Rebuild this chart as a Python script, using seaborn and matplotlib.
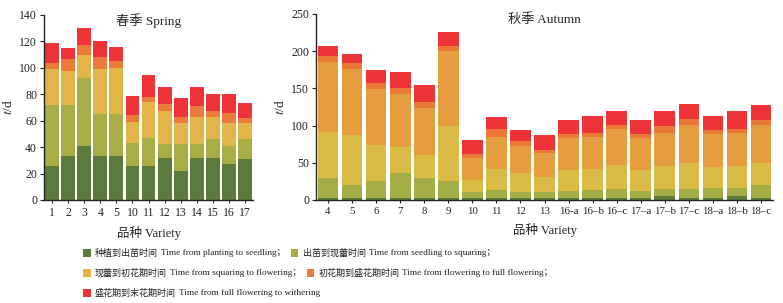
import numpy as np
import pandas as pd
import matplotlib.pyplot as plt
import seaborn as sns
from matplotlib.patches import Rectangle

# spring varieties and stage durations (days)
spring_var = ['1', '2', '3', '4', '5', '10', '11', '12', '13', '14', '15', '16', '17']
sp_plant = [26, 33, 41, 33, 33, 26, 26, 32, 22, 32, 32, 27, 31]
sp_square = [46, 39, 51.5, 32, 32, 17, 21, 10, 20, 10, 14, 14, 15]
sp_flower = [27, 25.5, 17, 34, 35, 16, 27, 25, 16, 21, 17, 17, 12]
sp_full = [4.5, 9, 7.5, 9.5, 5.5, 5, 4, 6, 5, 8, 4, 8, 4]
sp_wither = [15.5, 8.5, 13, 11.5, 10.5, 14.5, 16.5, 12.5, 14.5, 14.5, 13.5, 14.5, 11.5]

# autumn varieties (six bands are drawn in the source figure)
autumn_var = ['4', '5', '6', '7', '8', '9', '10', '11', '12', '13',
              '16-a', '16–b', '16–c', '17–a', '17–b', '17–c', '18–a', '18–b', '18–c']
au_plant = [3, 2, 2, 2, 2, 2, 2, 2, 2, 2, 3, 2, 2, 3, 6, 2, 3, 6, 2]
au_square = [27, 18, 23.5, 34, 28, 23.5, 9, 11.5, 9, 9, 9, 11.5, 12.5, 9.5, 9, 13, 12.5, 10.5, 18]
au_flower = [61, 67, 48.5, 35, 30.5, 73.5, 16.5, 28.5, 25, 19.5, 28, 28.5, 32, 27.5, 30, 35, 28.5, 28.5, 30]
au_extra = [94, 88.5, 75, 72, 62.5, 101, 29.5, 43, 37, 32.5, 43, 43, 49, 43, 45.5, 51, 44.5, 45.5, 51]
au_full = [8, 8.5, 8, 8, 9, 7.5, 5, 10, 6.5, 4, 6, 5.5, 5.5, 6, 9, 8, 5.5, 5.5, 6.5]
au_wither = [14.5, 12.5, 18, 20.5, 23, 18.5, 18.5, 16.5, 15, 20, 19, 23, 18.5, 19, 20, 20, 19, 23.5, 19.5]

labels_zh = ['种植到出苗时间', '出苗到现蕾时间', '现蕾到初花期时间',
             '初花期到盛花期时间', '盛花期到末花期时间']
labels_en = ['Time from planting to seedling；', 'Time from seedling to squaring；',
             'Time from squaring to flowering；', 'Time from flowering to full flowering；',
             'Time from full flowering to withering']
colors = ['#5b7a3b', '#a9ad45', '#e3b447', '#ec7a3a', '#ee3338']
au_colors = ['#5b7a3b', '#a4ad45', '#d9bb45', '#e69d40', '#ec7838', '#ee3338']

sns.set_style('ticks')
plt.rcParams['font.family'] = ['Liberation Serif', 'Noto Sans CJK SC']
plt.rcParams['mathtext.fontset'] = 'stix'

W, H = 783, 303
fig = plt.figure(figsize=(W / 100, H / 100), dpi=100)
ax1 = fig.add_axes([0.0562, 0.340, 0.267, 0.6106])
ax2 = fig.add_axes([0.4036, 0.340, 0.5837, 0.614])


def stacked(ax, var, stages, cols, width):
    cum = np.cumsum(np.array(stages, dtype=float), axis=0)
    df = pd.DataFrame(cum.T, columns=[f's{i}' for i in range(len(stages))])
    df['var'] = var
    for i in range(len(stages) - 1, -1, -1):
        sns.barplot(data=df, x='var', y=f's{i}', order=var, color=cols[i],
                    saturation=1, width=width, linewidth=0, errorbar=None, ax=ax)


stacked(ax1, spring_var, [sp_plant, sp_square, sp_flower, sp_full, sp_wither], colors, 0.86)
stacked(ax2, autumn_var, [au_plant, au_square, au_flower, au_extra, au_full, au_wither],
        au_colors, 0.86)

for ax, top, step, title in [(ax1, 140, 20, '春季 Spring'), (ax2, 250, 50, '秋季 Autumn')]:
    ax.set_ylim(0, top)
    ax.set_yticks(range(0, top + 1, step))
    ax.set_xlim(-0.5, len(ax.get_xticks()) - 0.5)
    ax.set_xlabel('品种 Variety', fontsize=9, labelpad=5)
    ax.set_ylabel('$t$/d', fontsize=9.5, labelpad=3)
    ax.tick_params(axis='both', labelsize=8.5, length=3, width=0.8, pad=2, colors='#222222')
    ax.tick_params(axis='x', length=2, pad=3)
    for s in ['left', 'bottom']:
        ax.spines[s].set_linewidth(1.0)
        ax.spines[s].set_color('#222222')
    sns.despine(ax=ax)
    ax.text(0.5, 0.97, title, transform=ax.transAxes, ha='center', va='center', fontsize=9.5)
ax2.tick_params(axis='x', labelsize=7.8)

# legend laid out as flowing text, three rows
renderer = fig.canvas.get_renderer()
rows = [[0, 1], [2, 3], [4]]
row_y = [253, 273, 293]
for idx, py in zip(rows, row_y):
    cx = 83
    for i in idx:
        fig.patches.append(Rectangle((cx / W, 1 - (py + 3.5) / H), 7.5 / W, 7.5 / H,
                                     facecolor=colors[i], edgecolor='none',
                                     transform=fig.transFigure, figure=fig))
        cx += 12
        t = fig.text(cx / W, 1 - py / H, labels_zh[i], fontsize=6.5, va='center',
                     family='Noto Sans CJK SC', color='#222222')
        cx += t.get_window_extent(renderer).width + 3
        t = fig.text(cx / W, 1 - py / H, labels_en[i], fontsize=6.7, va='center',
                     color='#222222')
        cx += t.get_window_extent(renderer).width + 5

fig.savefig('out.png', dpi=100)
